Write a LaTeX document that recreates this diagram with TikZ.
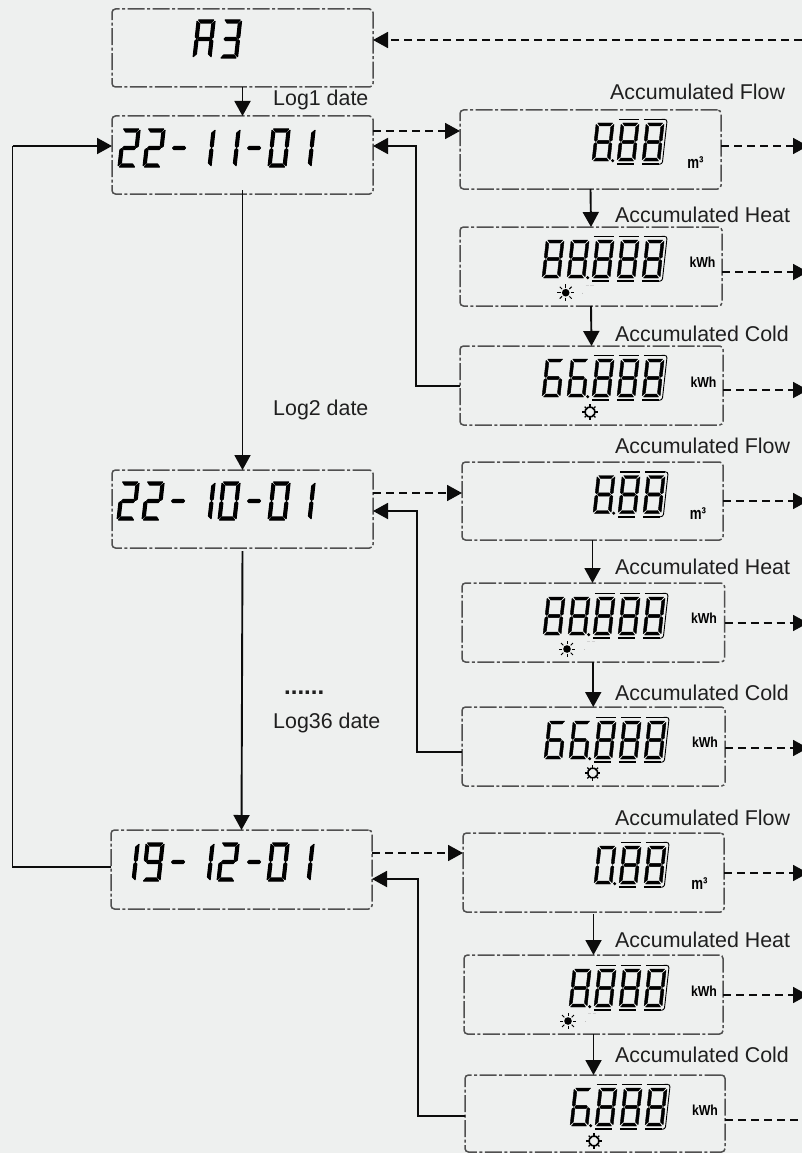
\documentclass[tikz,border=0pt]{standalone}
\usepackage{fontspec}
\setmainfont{Liberation Sans}
\usetikzlibrary{arrows.meta}
\definecolor{pagebg}{HTML}{EEF0EF}
\definecolor{boxedge}{HTML}{505050}
\definecolor{ink}{HTML}{0C0C0C}
\tikzset{
  lcdbox/.style={draw=boxedge,line width=1.5pt,rounded corners=3.5pt,
    dash pattern=on 17pt off 2.5pt on 3pt off 2.5pt,inner sep=0,outer sep=0,anchor=north west},
  link/.style={draw=ink,line width=1.9pt,-{Triangle[length=15pt,width=16pt]}},
  linkplain/.style={draw=ink,line width=1.9pt},
  dashlink/.style={draw=ink,line width=1.7pt,dash pattern=on 8pt off 5pt,-{Triangle[length=15pt,width=16pt]}},
  dashplain/.style={draw=ink,line width=1.7pt,dash pattern=on 8pt off 5pt},
  caption/.style={anchor=base west,inner sep=0,text=black!88,font=\fontsize{21.4}{24}\selectfont},
  unitlabel/.style={inner sep=0,text=black,font=\fontsize{14.5}{16}\selectfont\bfseries,anchor=center},
  volumelabel/.style={unitlabel,font=\fontsize{17}{18}\selectfont\bfseries},
  readout/.style={anchor=south west,inner sep=0,text opacity=0,font=\fontsize{53}{53}\selectfont},
  segthin/.style={line width=0.4pt,line join=round},
  segbold/.style={line width=1.1pt,line join=round},
}
% seven segments, local frame: width 18, height 38, origin at the lower left
\def\SegA{\filldraw (1.5,-38)--(16.5,-38)--(14.2,-35)--(3.8,-35)--cycle;}
\def\SegB{\filldraw (18,-36.7)--(18,-21)--(16.5,-19.6)--(15,-21)--(15,-34)--cycle;}
\def\SegC{\filldraw (18,-17)--(16.5,-18.4)--(15,-17)--(15,-4)--(18,-1.3)--cycle;}
\def\SegD{\filldraw (1.5,0)--(16.5,0)--(14.2,-3)--(3.8,-3)--cycle;}
\def\SegE{\filldraw (0,-17)--(1.5,-18.4)--(3,-17)--(3,-4)--(0,-1.3)--cycle;}
\def\SegF{\filldraw (0,-36.7)--(0,-21)--(1.5,-19.6)--(3,-21)--(3,-34)--cycle;}
\def\SegG{\filldraw (2.5,-19)--(4,-20.6)--(14,-20.6)--(15.5,-19)--(14,-17.4)--(4,-17.4)--cycle;}
\expandafter\def\csname Dig0\endcsname{\SegA\SegB\SegC\SegD\SegE\SegF}
\expandafter\def\csname Dig1\endcsname{\SegB\SegC}
\expandafter\def\csname Dig2\endcsname{\SegA\SegB\SegD\SegE\SegG}
\expandafter\def\csname Dig3\endcsname{\SegA\SegB\SegC\SegD\SegG}
\expandafter\def\csname Dig6\endcsname{\SegA\SegC\SegD\SegE\SegF\SegG}
\expandafter\def\csname Dig8\endcsname{\SegA\SegB\SegC\SegD\SegE\SegF\SegG}
\expandafter\def\csname Dig9\endcsname{\SegA\SegB\SegC\SegD\SegF\SegG}
\expandafter\def\csname DigA\endcsname{\SegA\SegB\SegC\SegE\SegF\SegG}
\expandafter\def\csname Digm\endcsname{\SegG}
\newcommand\lcd[3]{\begin{scope}[segthin,cm={1,0,0.11,1,(#1,#2)}]\csname Dig#3\endcsname\end{scope}}
\newcommand\lcdb[3]{\begin{scope}[segbold,cm={1,0,0.11,1,(#1,#2)}]\csname Dig#3\endcsname\end{scope}}
% over/underlines of a fractional digit
\newcommand\lcdrule[2]{\begin{scope}[cm={1,0,0.11,1,(#1,#2)}]
  \draw[line width=1.8pt] (0.3,3.2)--(17.3,3.2);
  \draw[line width=1.5pt] (-2.6,-41.6)--(17.4,-41.6);
\end{scope}}
\newcommand\lcdend[2]{\begin{scope}[cm={1,0,0.11,1,(#1,#2)}]
  \draw[line width=0.9pt,rounded corners=2.5pt] (15,-41.6)--(20.6,-41.6)--(20.6,3.2)--(15,3.2);
\end{scope}}
\newcommand\lcddot[2]{\fill (#1-4.3,#2-0.3) circle (1.7);}
\newcommand\sunicon[2]{\begin{scope}[shift={(#1,#2)}]
  \fill (0,0) circle (3.8);
  \foreach \a in {0,45,...,315}{\draw[line width=1pt] (\a:5.2)--(\a:8.4);}
  \draw[line width=0.7pt,black!18] (20,-7.5)--(23,-7.5) (24.5,-7.5)--(28,-7.5);
  \draw[line width=0.7pt,black!25] (17,0)--(17,1);
\end{scope}}
\newcommand\snowicon[2]{\begin{scope}[shift={(#1,#2)}]
  \draw[line width=1.6pt] (22.5:5)--(67.5:5)--(112.5:5)--(157.5:5)--(202.5:5)--(247.5:5)--(292.5:5)--(337.5:5)--cycle;
  \foreach \a in {0,45,...,315}{\draw[line width=1.3pt] (\a:4.4)--(\a:7.6);}
\end{scope}}
\newcommand\panel[5]{\node[lcdbox,minimum width=#4pt,minimum height=#5pt] (#1) at (#2,#3) {};}
\newcommand\readoutat[5]{\node[readout] (#1) at (#2,#3) {\scalebox{#4}[1]{#5}};}
% display with fractional part: last three digits framed
\newcommand\threeframed[2]{% x of the first framed digit, baseline
  \pgfmathsetmacro\xa{#1}\pgfmathsetmacro\xb{#1+25}\pgfmathsetmacro\xc{#1+50}
  \lcd{\xa}{#2}{8}\lcd{\xb}{#2}{8}\lcd{\xc}{#2}{8}
  \lcdrule{\xa}{#2}\lcdrule{\xb}{#2}\lcdrule{\xc}{#2}\lcdend{\xc}{#2}\lcddot{\xa}{#2}}
\newcommand\twoframed[2]{%
  \pgfmathsetmacro\xb{#1}\pgfmathsetmacro\xc{#1+25}
  \lcd{\xb}{#2}{8}\lcd{\xc}{#2}{8}
  \lcdrule{\xb}{#2}\lcdrule{\xc}{#2}\lcdend{\xc}{#2}\lcddot{\xb}{#2}}
\begin{document}
\begin{tikzpicture}[x=1pt,y=-1pt,line cap=butt]
\useasboundingbox (0,0) rectangle (802,1153);
\clip (0,0) rectangle (802,1153);
\fill[pagebg] (0,0) rectangle (802,1153);

% panels
\panel{a3}{112}{9}{261}{78}
\panel{la}{112}{116}{261}{78}
\panel{lb}{112}{470}{261}{78}
\panel{lc}{111}{830}{261}{79}
\panel{fa}{460}{110}{261}{79}
\panel{ha}{460}{227}{262}{79}
\panel{ca}{460}{346}{263}{79}
\panel{fb}{462}{462}{261}{78}
\panel{hb}{462}{583}{262.5}{79}
\panel{cb}{462}{707}{263}{79}
\panel{fc}{463}{833}{261}{79}
\panel{hc}{464}{955}{259}{79}
\panel{cc}{465}{1075}{260}{77}

% free ends
\coordinate (e0) at (802,40);
\coordinate (e1) at (808,146);
\coordinate (e2) at (808,272);
\coordinate (e3) at (808,390);
\coordinate (e4) at (808,501);
\coordinate (e5) at (808,623);
\coordinate (e6) at (808,748);
\coordinate (e7) at (808,873);
\coordinate (e8) at (808,995);
\coordinate (e9) at (802,1120);
% bends and rows
\coordinate (loopy) at (12.5,867);
\coordinate (loopt) at (12.5,146);
\coordinate (ra) at (416,386);
\coordinate (rb) at (417,752);
\coordinate (rc) at (418,1116);

% connectors
\draw[dashlink] (e0) -- (a3.east |- e0);
\draw[link] (a3.south) -- (la.north);
\draw[link,shorten <=-4pt] (la.south) -- (lb.north);
\draw[link,shorten <=3pt] (lb.south) -- (lc.north);
\draw[linkplain,line join=miter] (lc.west |- loopy) -- (loopy) -- (loopt);
\draw[link] (loopt) -- (la.west |- loopt);
\draw[dashlink] (la.east |- 0,131) -- (fa.west |- 0,131);
\draw[dashlink] (lb.east |- 0,493) -- (fb.west |- 0,493);
\draw[dashlink] (lc.east |- 0,853) -- (fc.west |- 0,853);
\draw[link] (ca.west |- ra) -- (ra) |- (la.east |- 0,146);
\draw[link] (cb.west |- rb) -- (rb) |- (lb.east |- 0,511);
\draw[link] (cc.west |- rc) -- (rc) |- (lc.east |- 0,879);
\draw[link] (fa.south) -- (ha.north);
\draw[link] (ha.south) -- (ca.north);
\draw[link] (fb.south) -- (fb.south |- hb.north);
\draw[link] (hb.south) -- (hb.south |- cb.north);
\draw[link,shorten <=2pt] (fc.south) -- (fc.south |- hc.north);
\draw[link] (hc.south) -- (hc.south |- cc.north);
\draw[dashlink] (fa.east |- e1) -- (e1);
\draw[dashlink] (ha.east |- e2) -- (e2);
\draw[dashlink] (ca.east |- e3) -- (e3);
\draw[dashlink] (fb.east |- e4) -- (e4);
\draw[dashlink] (hb.east |- e5) -- (e5);
\draw[dashlink] (cb.east |- e6) -- (e6);
\draw[dashlink] (fc.east |- e7) -- (e7);
\draw[dashlink] (hc.east |- e8) -- (e8);
\draw[dashplain] (cc.east |- e9) -- (e9);

% captions
\node[caption] (tl1) at (273,106) {Log1 date};
\node[caption] (tl2) at (273,415) {Log2 date};
\node[caption] (tl3) at (273,728) {Log36 date};
\node[caption,font=\fontsize{24}{24}\selectfont\bfseries] (tdots) at (284,694) {......};
\node[caption] (tf1) at (610,100) {Accumulated Flow};
\node[caption] (th1) at (615,222) {Accumulated Heat};
\node[caption] (tc1) at (615,341) {Accumulated Cold};
\node[caption] (tf2) at (615,453) {Accumulated Flow};
\node[caption] (th2) at (615,574) {Accumulated Heat};
\node[caption] (tc2) at (615,700) {Accumulated Cold};
\node[caption] (tf3) at (615,825) {Accumulated Flow};
\node[caption] (th3) at (615,947) {Accumulated Heat};
\node[caption] (tc3) at (615,1062) {Accumulated Cold};

% unit labels
\node[volumelabel] (ua) at (695.5,162.5) {\scalebox{.78}[1]{m³}};
\node[unitlabel] (ub) at (702.5,262.5) {\scalebox{.85}[1]{kWh}};
\node[unitlabel] (uc) at (703.5,382) {\scalebox{.85}[1]{kWh}};
\node[volumelabel] (ud) at (698,514) {\scalebox{.78}[1]{m³}};
\node[unitlabel] (ue) at (704,618) {\scalebox{.85}[1]{kWh}};
\node[unitlabel] (uf) at (705,742) {\scalebox{.85}[1]{kWh}};
\node[volumelabel] (ug) at (699.5,884) {\scalebox{.78}[1]{m³}};
\node[unitlabel] (uh) at (704,991.5) {\scalebox{.85}[1]{kWh}};
\node[unitlabel] (ui) at (705,1110.5) {\scalebox{.85}[1]{kWh}};

% readouts as text, under the segment glyphs
\readoutat{ra3}{193}{58}{.7}{A3}
\readoutat{rla}{118}{167}{.93}{22-11-01}
\readoutat{rlb}{117}{520}{.93}{22-10-01}
\readoutat{rlc}{117}{881}{.93}{19-12-01}
\readoutat{rfa}{592}{161}{.67}{8.88}
\readoutat{rha}{542}{278}{.75}{88.888}
\readoutat{rca}{542}{397}{.75}{66.888}
\readoutat{rfb}{593}{513.5}{.67}{8.88}
\readoutat{rhb}{543}{635}{.75}{88.888}
\readoutat{rcb}{544}{759}{.75}{66.888}
\readoutat{rfc}{594}{884}{.67}{0.88}
\readoutat{rhc}{569}{1007}{.7}{8.888}
\readoutat{rcc}{570}{1126}{.7}{6.888}

% segment glyphs: A3
\lcdb{193}{58}{A}\lcdb{219.5}{58}{3}
% 22-11-01
\lcdb{118}{167}{2}\lcdb{143}{167}{2}\lcdb{168}{167}{m}\lcdb{193}{167}{1}\lcdb{218}{167}{1}\lcdb{243}{167}{m}\lcdb{268}{167}{0}\lcdb{293}{167}{1}
% 22-10-01
\lcdb{117}{520}{2}\lcdb{142}{520}{2}\lcdb{167}{520}{m}\lcdb{193}{520}{1}\lcdb{218}{520}{0}\lcdb{243}{520}{m}\lcdb{268}{520}{0}\lcdb{293}{520}{1}
% 19-12-01
\lcdb{117}{881}{1}\lcdb{142}{881}{9}\lcdb{167}{881}{m}\lcdb{192}{881}{1}\lcdb{217}{881}{2}\lcdb{243}{881}{m}\lcdb{267}{881}{0}\lcdb{292}{881}{1}
% flow / heat / cold, group 1
\lcd{592}{161}{8}\twoframed{617}{161}
\lcd{542}{278}{8}\lcd{567}{278}{8}\threeframed{592}{278}\sunicon{565.7}{292.7}
\lcd{542}{397}{6}\lcd{567}{397}{6}\threeframed{592}{397}\snowicon{590}{412}
% group 2
\lcd{593}{513.5}{8}\twoframed{618}{513.5}
\lcd{543}{635}{8}\lcd{568}{635}{8}\threeframed{593}{635}\sunicon{567}{649}
\lcd{544}{759}{6}\lcd{569}{759}{6}\threeframed{594}{759}\snowicon{592.7}{773}
% group 3
\lcd{594}{884}{0}\twoframed{619}{884}
\lcd{569}{1007}{8}\threeframed{594}{1007}\sunicon{568}{1021}
\lcd{570}{1126}{6}\threeframed{595}{1126}\snowicon{594}{1141}
\end{tikzpicture}
\end{document}
